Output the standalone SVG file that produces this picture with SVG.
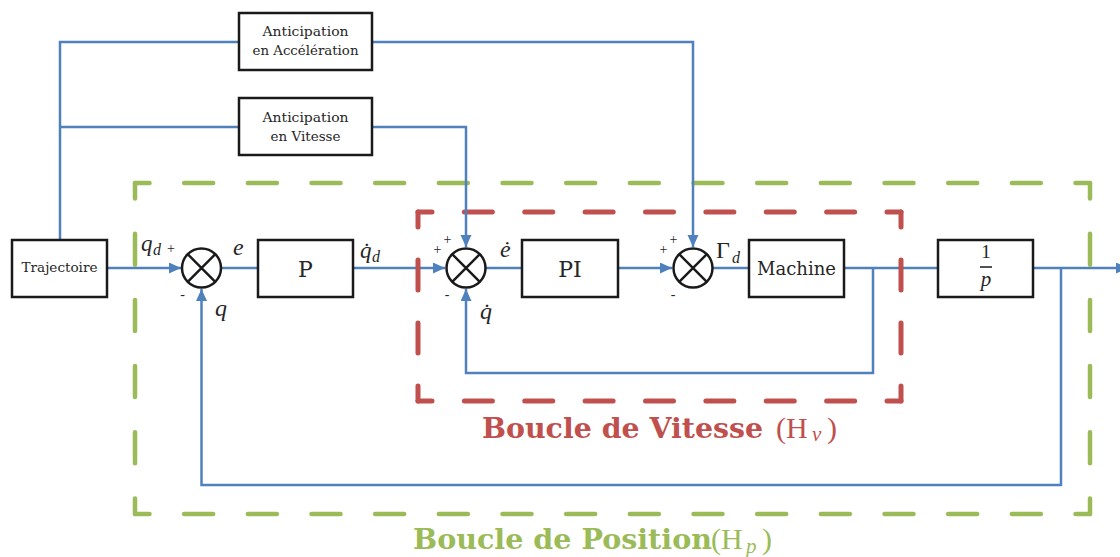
<svg xmlns="http://www.w3.org/2000/svg" width="1120" height="557" viewBox="0 0 1120 557" font-family="DejaVu Serif, serif">
<defs>
<style>
.blk{fill:#fff;stroke:#1a1a1a;stroke-width:2.5}
.sum{fill:#fff;stroke:#1a1a1a;stroke-width:2.5}
.x{stroke:#1a1a1a;stroke-width:2.5}
.ln{fill:none;stroke:#4F81BD;stroke-width:2.5}
.lbl{fill:#262626;text-anchor:middle}
.m{font-style:italic;fill:#262626}
.r{fill:#262626}
.sg{fill:#262626;font-size:14px;text-anchor:middle}
.gd{fill:none;stroke:#9BBB59;stroke-width:4.5;stroke-linecap:round}
.rd{fill:none;stroke:#C0504D;stroke-width:5;stroke-linecap:round}
</style>
<marker id="ar" markerUnits="userSpaceOnUse" markerWidth="13" markerHeight="12" refX="12" refY="5.5" orient="auto">
<path d="M0,0 L12,5.5 L0,11 z" fill="#4F81BD"/>
</marker>
</defs>
<rect width="1120" height="557" fill="#fff"/>

<g id="connectors">
<path class="ln" d="M107,268 H181" marker-end="url(#ar)"/>
<path class="ln" d="M221,268 H258"/>
<path class="ln" d="M353,268 H445" marker-end="url(#ar)"/>
<path class="ln" d="M486,268 H522"/>
<path class="ln" d="M618,268 H672" marker-end="url(#ar)"/>
<path class="ln" d="M713,268 H749"/>
<path class="ln" d="M844,268 H938"/>
<path class="ln" d="M1033,268 H1128" marker-end="url(#ar)"/>
<path class="ln" d="M873,268 V373 H466 V289" marker-end="url(#ar)"/>
<path class="ln" d="M1061,268 V485 H201.5 V289" marker-end="url(#ar)"/>
</g>

<g id="loop-position">
<path class="gd" d="M135,183 H1090" stroke-dasharray="29 34.667" stroke-dashoffset="14.5"/>
<path class="gd" d="M135,514 H1090" stroke-dasharray="29 34.667" stroke-dashoffset="14.5"/>
<path class="gd" d="M135,183 V514" stroke-dasharray="31 35.2" stroke-dashoffset="15.5"/>
<path class="gd" d="M1090,183 V514" stroke-dasharray="31 35.2" stroke-dashoffset="15.5"/>
<text x="413" y="549" font-family="DejaVu Serif, serif" font-weight="bold" font-size="28" fill="#9BBB59" textLength="299" lengthAdjust="spacingAndGlyphs">Boucle de Position</text>
<text font-family="Liberation Serif, serif" font-size="30" fill="#9BBB59"><tspan x="711" y="549">(</tspan><tspan x="721" y="549">H</tspan><tspan x="746" y="553" font-size="21" font-style="italic">p</tspan><tspan x="762" y="549">)</tspan></text>
</g>

<g id="loop-vitesse">
<path class="rd" d="M418,212 H901" stroke-dasharray="28 32.375" stroke-dashoffset="14"/>
<path class="rd" d="M418,401 H901" stroke-dasharray="28 32.375" stroke-dashoffset="14"/>
<path class="rd" d="M418,212 V401" stroke-dasharray="30 33" stroke-dashoffset="15"/>
<path class="rd" d="M901,212 V401" stroke-dasharray="30 33" stroke-dashoffset="15"/>
<text x="482" y="438" font-family="DejaVu Serif, serif" font-weight="bold" font-size="28" fill="#C0504D" textLength="281" lengthAdjust="spacingAndGlyphs">Boucle de Vitesse</text>
<text font-family="Liberation Serif, serif" font-size="30" fill="#C0504D"><tspan x="776" y="438">(</tspan><tspan x="786" y="438">H</tspan><tspan x="812" y="441" font-size="21" font-style="italic">v</tspan><tspan x="827" y="438">)</tspan></text>
</g>

<g id="feedforward">
<path class="ln" d="M60,240 V42 H239"/>
<path class="ln" d="M372,42 H693 V247" marker-end="url(#ar)"/>
<path class="ln" d="M60,127 H239"/>
<path class="ln" d="M372,127 H466 V247" marker-end="url(#ar)"/>
</g>

<g id="trajectoire">
<rect class="blk" x="12" y="240" width="95" height="57"/>
<text class="lbl" x="59.5" y="272" font-family="DejaVu Serif, serif" font-size="13" textLength="76" lengthAdjust="spacingAndGlyphs">Trajectoire</text>
</g>

<g id="antic-acc">
<rect class="blk" x="239" y="13" width="133" height="57"/>
<text class="lbl" x="305.5" y="36" font-family="DejaVu Serif, serif" font-size="13.5" textLength="86" lengthAdjust="spacingAndGlyphs">Anticipation</text>
<text class="lbl" x="305.5" y="55" font-family="DejaVu Serif, serif" font-size="13.5" textLength="106" lengthAdjust="spacingAndGlyphs">en Accélération</text>
</g>

<g id="antic-vit">
<rect class="blk" x="239" y="98" width="133" height="57"/>
<text class="lbl" x="305.5" y="122" font-family="DejaVu Serif, serif" font-size="13.5" textLength="86" lengthAdjust="spacingAndGlyphs">Anticipation</text>
<text class="lbl" x="305.5" y="141" font-family="DejaVu Serif, serif" font-size="13.5" textLength="70" lengthAdjust="spacingAndGlyphs">en Vitesse</text>
</g>

<g id="sum1" font-family="Liberation Serif, serif">
<circle class="sum" cx="201.5" cy="268" r="19.5"/>
<path class="x" d="M187.7,254.2 L215.3,281.8 M215.3,254.2 L187.7,281.8"/>
<text class="m" x="141" y="251" font-size="23">q</text>
<text class="m" x="153" y="255" font-size="16">d</text>
<text class="sg" x="171" y="253">+</text>
<text class="sg" x="182.5" y="299">-</text>
<text class="m" x="215" y="316" font-size="24">q</text>
<text class="m" x="233" y="255" font-size="24">e</text>
</g>

<g id="P">
<rect class="blk" x="258" y="240" width="95" height="57"/>
<text class="lbl" x="305.5" y="277" font-family="DejaVu Serif, serif" font-size="22">P</text>
<text class="m" x="360" y="258" font-family="Liberation Serif, serif" font-size="23">q̇</text>
<text class="m" x="372" y="262" font-family="Liberation Serif, serif" font-size="16">d</text>
</g>

<g id="sum2" font-family="Liberation Serif, serif">
<circle class="sum" cx="466" cy="268" r="19.5"/>
<path class="x" d="M452.2,254.2 L479.8,281.8 M479.8,254.2 L452.2,281.8"/>
<text class="sg" x="437.5" y="254">+</text>
<text class="sg" x="447.5" y="244">+</text>
<text class="sg" x="447" y="299">-</text>
<text class="m" x="500" y="257" font-size="24">ė</text>
<text class="m" x="480" y="319" font-size="24">q̇</text>
</g>

<g id="PI">
<rect class="blk" x="522" y="240" width="96" height="57"/>
<text class="lbl" x="570" y="277" font-family="DejaVu Serif, serif" font-size="22">PI</text>
</g>

<g id="sum3" font-family="Liberation Serif, serif">
<circle class="sum" cx="693" cy="268" r="19.5"/>
<path class="x" d="M679.2,254.2 L706.8,281.8 M706.8,254.2 L679.2,281.8"/>
<text class="sg" x="663.5" y="254">+</text>
<text class="sg" x="673.5" y="244">+</text>
<text class="sg" x="673" y="299">-</text>
<text class="r" x="716" y="258" font-size="24">Γ</text>
<text class="m" x="732" y="263" font-size="16">d</text>
</g>

<g id="machine">
<rect class="blk" x="749" y="240" width="95" height="57"/>
<text class="lbl" x="796.5" y="275" font-family="DejaVu Serif, serif" font-size="18">Machine</text>
</g>

<g id="integrateur" font-family="Liberation Serif, serif">
<rect class="blk" x="938" y="240" width="95" height="57"/>
<text class="r" x="986" y="258" font-size="19" text-anchor="middle">1</text>
<line x1="980" y1="267" x2="992" y2="267" stroke="#1a1a1a" stroke-width="1.5"/>
<text class="m" x="986" y="286" font-size="21" text-anchor="middle">p</text>
</g>
</svg>
